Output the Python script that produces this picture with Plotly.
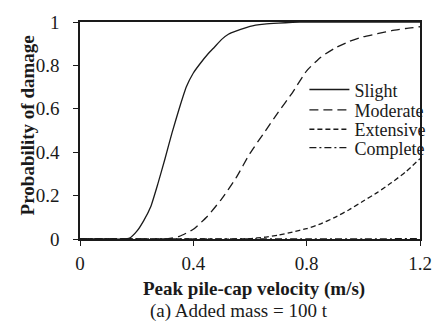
import plotly.graph_objects as go

# Data
x_slight = [0.0, 0.05, 0.10, 0.15, 0.175, 0.20, 0.225, 0.25, 0.275, 0.30, 0.325, 0.35,
            0.375, 0.40, 0.425, 0.45, 0.475, 0.50, 0.525, 0.55, 0.60, 0.65, 0.70,
            0.75, 0.80, 0.90, 1.00, 1.10, 1.20]
y_slight = [0.0, 0.0, 0.0, 0.0, 0.004, 0.035, 0.085, 0.15, 0.255, 0.37, 0.49, 0.60,
            0.70, 0.765, 0.81, 0.85, 0.885, 0.92, 0.945, 0.958, 0.98, 0.99, 0.995,
            0.998, 1.0, 1.0, 1.0, 1.0, 1.0]

x_moderate = [0.0, 0.10, 0.20, 0.30, 0.35, 0.40, 0.45, 0.50, 0.55, 0.60, 0.65, 0.70,
              0.75, 0.80, 0.85, 0.90, 0.95, 1.00, 1.05, 1.10, 1.15, 1.20]
y_moderate = [0.0, 0.0, 0.0, 0.0, 0.012, 0.045, 0.105, 0.185, 0.28, 0.395, 0.49, 0.585,
              0.675, 0.775, 0.838, 0.88, 0.91, 0.932, 0.946, 0.96, 0.97, 0.978]

x_extensive = [0.0, 0.20, 0.40, 0.55, 0.60, 0.65, 0.70, 0.75, 0.80, 0.85, 0.90, 0.95,
               1.00, 1.05, 1.10, 1.15, 1.20]
y_extensive = [0.0, 0.0, 0.0, 0.0, 0.002, 0.008, 0.018, 0.032, 0.048, 0.07, 0.10, 0.135,
               0.175, 0.215, 0.26, 0.31, 0.37]

x_complete = [0.0, 0.20, 0.40, 0.60, 0.80, 1.00, 1.20]
y_complete = [0.0, 0.0, 0.0, 0.0, 0.0, 0.0, 0.002]

x_ticks = [0, 0.4, 0.8, 1.2]
x_ticklabels = ["0", "0.4", "0.8", "1.2"]
y_ticks = [0, 0.2, 0.4, 0.6, 0.8, 1]
y_ticklabels = ["0", "0.2", "0.4", "0.6", "0.8", "1"]

FONT = "Liberation Serif"
INK = "#1a1a1a"

fig = go.Figure()
series = [
    ("Slight", x_slight, y_slight, "solid", "legend"),
    ("Moderate", x_moderate, y_moderate, "9px,5px", "legend2"),
    ("Extensive", x_extensive, y_extensive, "5px,3px", "legend3"),
    ("Complete", x_complete, y_complete, "7px,3px,2px,3px", "legend4"),
]
for name, xs, ys, dash, lg in series:
    fig.add_trace(go.Scatter(
        x=xs, y=ys, name=name, mode="lines", legend=lg,
        line=dict(color=INK, width=1.3, dash=dash, shape="spline", smoothing=0.5),
    ))

legend_rows = {"legend": 85, "legend2": 106, "legend3": 126, "legend4": 145}
legend_layout = {}
for lg, row_px in legend_rows.items():
    legend_layout[lg] = dict(
        x=0.66, y=(239 - row_px) / 224, xanchor="left", yanchor="middle",
        bgcolor="rgba(0,0,0,0)", borderwidth=0,
        font=dict(family=FONT, size=18, color=INK),
        itemwidth=40,
    )

fig.update_layout(
    width=444, height=327,
    margin=dict(l=80, r=14, t=15, b=88),
    paper_bgcolor="white", plot_bgcolor="white",
    font=dict(family=FONT, size=19, color=INK),
    showlegend=True,
    xaxis=dict(
        range=[0, 1.2], tickvals=x_ticks, ticktext=x_ticklabels,
        showgrid=False, zeroline=False,
        showline=True, linecolor=INK, linewidth=1.5, mirror=True,
        ticks="outside", ticklen=5, tickwidth=1.2, tickcolor=INK,
        ticklabelstandoff=1,
        tickfont=dict(family=FONT, size=19, color=INK),
    ),
    yaxis=dict(
        range=[0, 1], tickvals=y_ticks, ticktext=y_ticklabels,
        showgrid=False, zeroline=False,
        showline=True, linecolor=INK, linewidth=1.5, mirror=True,
        ticks="outside", ticklen=5, tickwidth=1.2, tickcolor=INK,
        ticklabelstandoff=10,
        tickfont=dict(family=FONT, size=19, color=INK),
    ),
    annotations=[
        dict(text="<b>Probability of damage</b>", xref="paper", yref="paper",
             x=-0.155, y=0.525, xanchor="center", yanchor="middle", textangle=-90,
             showarrow=False, font=dict(family=FONT, size=19, color=INK)),
        dict(text="<b>Peak pile-cap velocity (m/s)</b>", xref="paper", yref="paper",
             x=0.511, y=-0.232, xanchor="center", yanchor="middle",
             showarrow=False, font=dict(family=FONT, size=19, color=INK)),
        dict(text="(a) Added mass = 100 t", xref="paper", yref="paper",
             x=0.467, y=-0.33, xanchor="center", yanchor="middle",
             showarrow=False, font=dict(family=FONT, size=19, color=INK)),
    ],
    **legend_layout,
)

fig.write_html("out.html")
